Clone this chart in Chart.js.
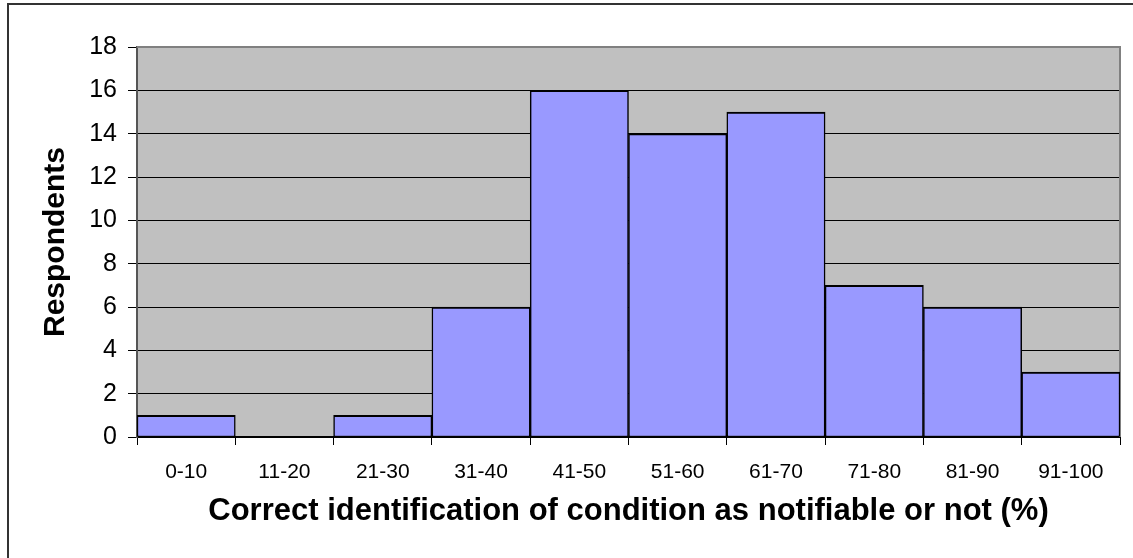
<!DOCTYPE html>
<html lang="en">
<head>
    <meta charset="UTF-8">
    <title>Respondents histogram</title>
    <script src="https://cdn.jsdelivr.net/npm/chart.js"></script>
    <style>
        html, body { margin: 0; padding: 0; background: #fff; }
        .wrap { width: 1133px; height: 558px; position: relative; }
    </style>
</head>
<body>
    <div class="wrap">
        <canvas id="chartRespondents"></canvas>
    </div>
</body>
</html>
<script>
    const categories = ['0-10', '11-20', '21-30', '31-40', '41-50', '51-60', '61-70', '71-80', '81-90', '91-100'];
    const respondents = [1, 0, 1, 6, 16, 14, 15, 7, 6, 3];
    const yTicks = [0, 2, 4, 6, 8, 10, 12, 14, 16, 18];

    const fontFamily = '"Liberation Sans", Arial, Helvetica, sans-serif';

    // grey plot background + outer frame
    const frame = {
        id: 'frame',
        beforeDraw(chart) {
            const { ctx, chartArea: a } = chart;
            ctx.save();
            ctx.fillStyle = '#c0c0c0';
            ctx.fillRect(a.left, a.top, a.right - a.left, a.bottom - a.top);
            ctx.strokeStyle = '#333333';
            ctx.lineWidth = 2;
            ctx.strokeRect(8, 4, 1200, 600);
            ctx.restore();
        },
        beforeDatasetsDraw(chart) {
            const { ctx, chartArea: a } = chart;
            ctx.save();
            ctx.strokeStyle = '#808080';
            ctx.lineWidth = 2;
            ctx.beginPath();
            ctx.moveTo(a.left, a.top);
            ctx.lineTo(a.right, a.top);
            ctx.lineTo(a.right, a.bottom);
            ctx.stroke();
            ctx.restore();
        }
    };

    function renderChart() {
        const data = {
            labels: categories,
            datasets: [{
                label: 'Respondents',
                data: respondents,
                backgroundColor: '#9999ff',
                borderColor: '#000000',
                borderWidth: { top: 2, left: 1.5, right: 1.5, bottom: 1 },
                borderSkipped: false,
                barPercentage: 1,
                categoryPercentage: 1
            }]
        };

        const config = {
            type: 'bar',
            data: data,
            options: {
                responsive: true,
                maintainAspectRatio: false,
                animation: { duration: 0 },
                layout: { padding: { top: 47, right: 13, left: 0, bottom: 0 } },
                plugins: {
                    legend: { display: false },
                    tooltip: { enabled: false }
                },
                scales: {
                    x: {
                        grid: {
                            drawOnChartArea: false,
                            drawTicks: true,
                            tickLength: 8,
                            color: '#000000',
                            lineWidth: 1
                        },
                        border: { color: '#000000', width: 2 },
                        ticks: {
                            color: '#000000',
                            padding: 15,
                            maxRotation: 0,
                            autoSkip: false,
                            font: { family: fontFamily, size: 21 }
                        },
                        title: {
                            display: true,
                            text: 'Correct identification of condition as notifiable or not (%)',
                            color: '#000000',
                            padding: { top: 0, bottom: 28 },
                            font: { family: fontFamily, size: 31, weight: 'bold' }
                        },
                        afterFit(scale) { scale.height = 121; }
                    },
                    y: {
                        min: 0,
                        max: 18,
                        afterBuildTicks(scale) {
                            scale.ticks = yTicks.map(v => ({ value: v }));
                        },
                        grid: {
                            color: '#000000',
                            lineWidth: 1,
                            tickLength: 9
                        },
                        border: { color: '#555555', width: 2 },
                        ticks: {
                            color: '#000000',
                            padding: 11,
                            font: { family: fontFamily, size: 25 }
                        },
                        title: {
                            display: true,
                            text: 'Respondents',
                            color: '#000000',
                            padding: { top: 38, bottom: 0 },
                            font: { family: fontFamily, size: 30, weight: 'bold' }
                        },
                        afterFit(scale) { scale.width = 137; }
                    }
                }
            },
            plugins: [frame]
        };

        new Chart(document.getElementById('chartRespondents'), config);
    }

    renderChart();
</script>
